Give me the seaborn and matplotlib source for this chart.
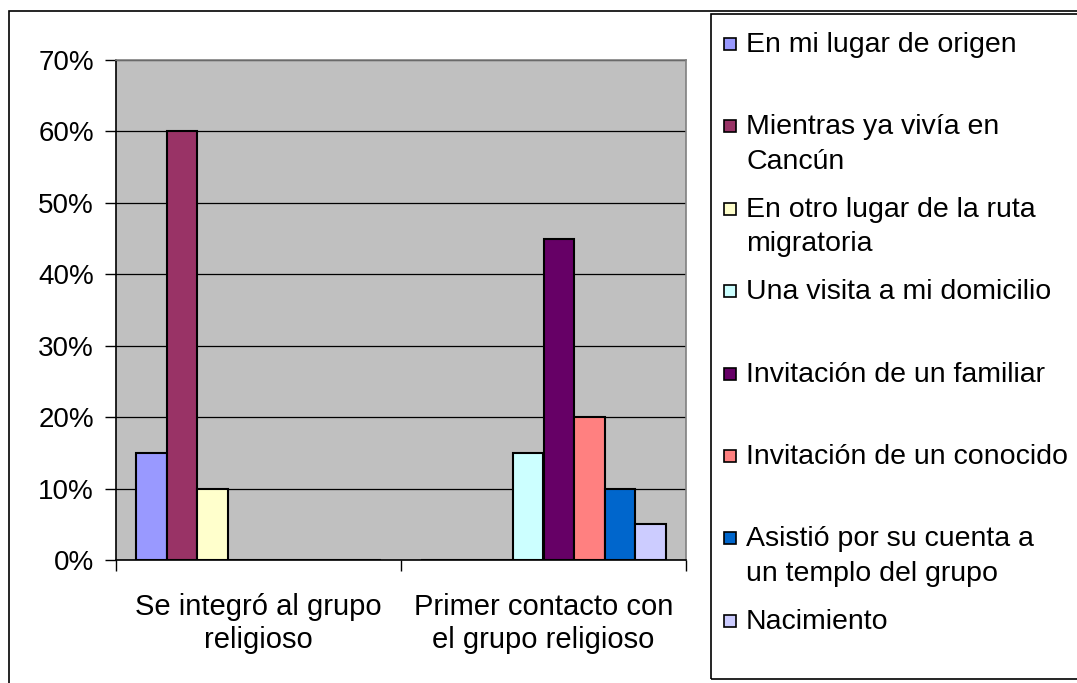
import pandas as pd
import matplotlib.pyplot as plt
import seaborn as sns
from matplotlib.patches import Rectangle
from matplotlib.ticker import PercentFormatter

# categories and series (values in %)
categories = ['Se integró al grupo\nreligioso', 'Primer contacto con\nel grupo religioso']
series = ['En mi lugar de origen', 'Mientras ya vivía en\nCancún', 'En otro lugar de la ruta\nmigratoria',
          'Una visita a mi domicilio', 'Invitación de un familiar', 'Invitación de un conocido',
          'Asistió por su cuenta a\nun templo del grupo', 'Nacimiento']
integro = [15, 60, 10, 0, 0, 0, 0, 0]
contacto = [0, 0, 0, 15, 45, 20, 10, 5]
colors = ['#9999FF', '#993366', '#FFFFCC', '#CCFFFF', '#660066', '#FF8080', '#0066CC', '#CCCCFF']

rows = []
for s, a, b in zip(series, integro, contacto):
    rows.append({'cat': categories[0], 'serie': s, 'val': a})
    rows.append({'cat': categories[1], 'serie': s, 'val': b})
df = pd.DataFrame(rows)

sns.set_style('white')
plt.rcParams['font.family'] = ['Liberation Sans', 'DejaVu Sans']
plt.rcParams['text.color'] = 'black'
plt.rcParams['xtick.color'] = 'black'
plt.rcParams['ytick.color'] = 'black'

W, H = 1077, 683
fig = plt.figure(figsize=(W / 100, H / 100), dpi=100)
ax = fig.add_axes([116 / W, 1 - 560 / H, (686 - 116) / W, (560 - 60) / H])
ax.set_facecolor('#C0C0C0')

sns.barplot(data=df, x='cat', y='val', hue='serie', hue_order=series, order=categories,
            palette=colors, saturation=1, width=0.86, edgecolor='black', linewidth=1.5,
            legend=False, ax=ax)

ax.set_ylim(0, 70)
ax.set_xlim(-0.5, 1.5)
ax.set_yticks(range(0, 71, 10))
ax.yaxis.set_major_formatter(PercentFormatter(decimals=0))
ax.yaxis.grid(True, color='black', linewidth=0.9)
ax.set_axisbelow(True)
ax.set_xlabel('')
ax.set_ylabel('')

# tick marks on category boundaries, labels centred under the groups
ax.set_xticks([-0.5, 0.5, 1.5])
ax.set_xticklabels([])
ax.set_xticks([0, 1], minor=True)
ax.set_xticklabels(categories, minor=True, fontsize=21, linespacing=1.2)
ax.tick_params(axis='x', which='minor', length=0, pad=24)
ax.tick_params(axis='x', which='major', length=8, width=1, color='black', direction='out', bottom=True)
ax.tick_params(axis='y', length=8, width=1, color='black', direction='out', left=True, labelsize=20, pad=8)

for side in ['top', 'right']:
    ax.spines[side].set_color('#808080')
    ax.spines[side].set_linewidth(1.2)
for side in ['left', 'bottom']:
    ax.spines[side].set_color('black')
    ax.spines[side].set_linewidth(1.2)

# outer chart border
fig.patches.append(Rectangle((9 / W, -0.1), 1.2, 1 - 11 / H + 0.1, transform=fig.transFigure,
                             fill=False, edgecolor='black', linewidth=1.2))

# legend box, drawn like the Excel one
fig.patches.append(Rectangle((711 / W, 1 - 679 / H), 0.5, (679 - 14) / H, transform=fig.transFigure,
                             fill=False, edgecolor='black', linewidth=1.2))
step = 82.4
for i, (s, c) in enumerate(zip(series, colors)):
    yc = 44 + i * step
    fig.patches.append(Rectangle((724 / W, 1 - (yc + 6) / H), 12 / W, 12 / H, transform=fig.transFigure,
                                 facecolor=c, edgecolor='black', linewidth=1.2))
    fig.text(746 / W, 1 - (yc - 12) / H, s, fontsize=20.5, va='top', ha='left', linespacing=1.42)

fig.savefig('out.png', dpi=100)
